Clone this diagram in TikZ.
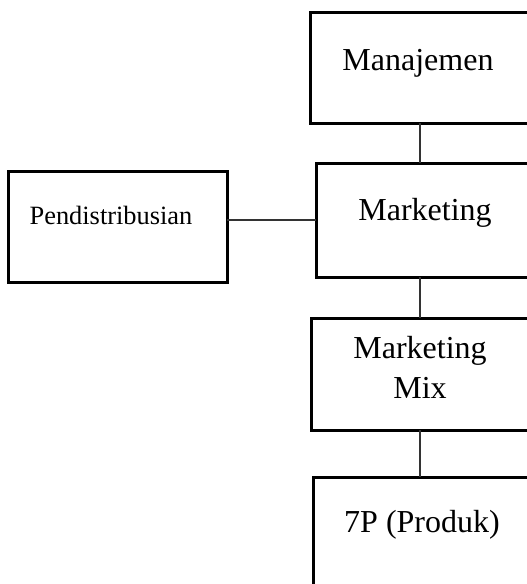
\documentclass[tikz,border=0pt]{standalone}
\usepackage{fontspec}
\setmainfont{Liberation Serif}
\usetikzlibrary{calc}
\newcommand{\boxfont}{\fontsize{32}{40}\selectfont}
\newcommand{\sidefont}{\fontsize{26.4}{32}\selectfont}
\tikzset{
  box/.style={draw,line width=3pt,inner sep=0pt,outer sep=0pt,anchor=north west},
  lbl/.style={inner sep=0pt,anchor=base,font=\boxfont},
  link/.style={draw=black!80,line width=1.3pt}
}

\begin{document}
\begin{tikzpicture}[x=1pt,y=-1pt]
\useasboundingbox (0,0) rectangle (527,584);
\clip (0,0) rectangle (527,584);
\node[box,minimum width=220pt,minimum height=111pt] (man) at (310,12) {};
\node[box,minimum width=219pt,minimum height=114pt] (mkt) at (316,163) {};
\node[box,minimum width=219pt,minimum height=111pt] (dist) at (8,171) {};
\node[box,minimum width=218pt,minimum height=112pt] (mix) at (311,318) {};
\node[box,minimum width=219pt,minimum height=130pt] (tp) at (313,477) {};
\node[lbl] (manT) at (418,70) {Manajemen};
\node[lbl] (mktT) at (425,220) {Marketing};
\node[lbl,font=\sidefont] (distT) at (111,224) {Pendistribusian};
\node[lbl,anchor=center,align=center] (mixT) at (420,367) {Marketing\\Mix};
\node[lbl] (tpT) at (422,532) {7P (Produk)};
\draw[link] (man.south) -- (man.south |- mkt.north);
\draw[link] (mkt.west) -- (mkt.west -| dist.east);
\draw[link] (mix.north |- mkt.south) -- (mix.north);
\draw[link] (mix.south) -- (mix.south |- tp.north);
\end{tikzpicture}
\end{document}
